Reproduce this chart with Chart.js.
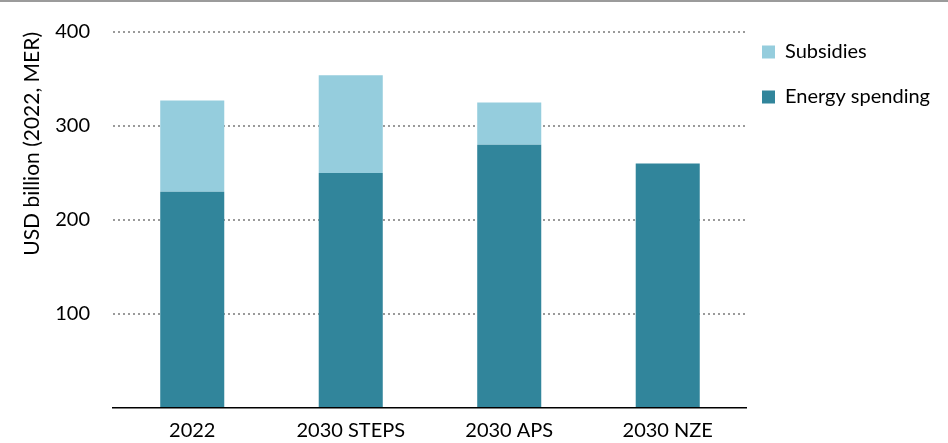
<!DOCTYPE html>
<html>
<head>
<meta charset="utf-8">
<script src="https://cdn.jsdelivr.net/npm/chart.js@4.4.0/dist/chart.umd.min.js"></script>
<style>
  html, body { margin: 0; padding: 0; background: #fff; }
  #wrap { width: 948px; height: 443px; position: relative; }
</style>
</head>
<body>
<div id="wrap"><canvas id="chart" width="948" height="443"></canvas></div>
<script>
const categories = ['2022', '2030 STEPS', '2030 APS', '2030 NZE'];
const energySpending = [230, 250, 280, 260];
const subsidies = [97, 104, 45, 0];
const yTicks = [100, 200, 300, 400];

const fontFamily = 'Lato, "Open Sans", sans-serif';

// grey rule along the top edge, and legend pinned to the top right
const extras = {
  id: 'extras',
  beforeDraw(chart) {
    const ctx = chart.ctx;
    ctx.save();
    ctx.fillStyle = '#9b9b9b';
    ctx.fillRect(0, 0, chart.width, 2);
    ctx.restore();
    const lg = chart.legend;
    const pad = lg.options.labels.padding;
    lg.left = 762 - pad;
    lg.top = 42 - pad;
  }
};

new Chart(document.getElementById('chart'), {
  type: 'bar',
  data: {
    labels: categories,
    datasets: [
      {
        label: 'Energy spending',
        data: energySpending,
        backgroundColor: '#31859b',
        categoryPercentage: 1,
        barPercentage: 0.404
      },
      {
        label: 'Subsidies',
        data: subsidies,
        backgroundColor: '#95cddd',
        categoryPercentage: 1,
        barPercentage: 0.404
      }
    ]
  },
  options: {
    responsive: false,
    animation: false,
    layout: { padding: { top: 32, right: -2, left: 0, bottom: 0 } },
    plugins: {
      tooltip: { enabled: false },
      legend: {
        position: 'right',
        align: 'start',
        reverse: true,
        labels: {
          boxWidth: 13,
          boxHeight: 13,
          padding: 25,
          color: '#000',
          font: { family: fontFamily, size: 20 }
        }
      }
    },
    scales: {
      x: {
        stacked: true,
        grid: { display: false },
        border: { color: '#000', width: 1.5 },
        ticks: { color: '#000', font: { family: fontFamily, size: 20 }, padding: 3 },
        afterFit(s) { s.height = 35; }
      },
      y: {
        stacked: true,
        min: 0,
        max: 400,
        afterBuildTicks(s) { s.ticks = [0].concat(yTicks).map(v => ({ value: v })); },
        afterFit(s) { s.width = 113; s.paddingTop = 0; s.paddingBottom = 0; },
        grid: {
          color: ctx => ctx.tick && ctx.tick.value === 0 ? 'rgba(0,0,0,0)' : '#9a9a9a',
          lineWidth: 2,
          drawTicks: false
        },
        border: { display: false, dash: [2, 3] },
        ticks: {
          color: '#000',
          padding: 23,
          font: { family: fontFamily, size: 20 },
          callback: v => (v === 0 ? '' : v)
        },
        title: {
          display: true,
          text: 'USD billion (2022, MER)',
          align: 'end',
          color: '#000',
          font: { family: fontFamily, size: 21 },
          padding: { top: 20, bottom: 0 }
        }
      }
    }
  },
  plugins: [extras]
});
</script>
</body>
</html>
